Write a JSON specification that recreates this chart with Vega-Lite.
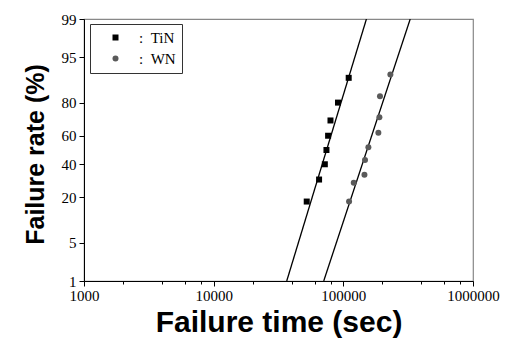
{
  "$schema": "https://vega.github.io/schema/vega-lite/v6.json",
  "width": 389,
  "height": 262,
  "autosize": {"type": "none"},
  "padding": {"left": 84, "top": 19, "right": 38, "bottom": 58},
  "background": "white",
  "config": {
    "view": {"stroke": "#888888", "strokeWidth": 1.2},
    "axis": {
      "domainColor": "#000000",
      "tickColor": "#000000",
      "labelFont": "Liberation Serif",
      "labelFontSize": 15,
      "labelColor": "#000000",
      "titleFont": "Liberation Sans",
      "titleFontWeight": "bold",
      "titleColor": "#000000",
      "grid": false,
      "labelOverlap": false,
      "labelFlush": false
    }
  },
  "datasets": {
    "pts": [
      {"series": "TiN", "time": 52200, "rate": 18},
      {"series": "TiN", "time": 65000, "rate": 30},
      {"series": "TiN", "time": 72000, "rate": 40},
      {"series": "TiN", "time": 74100, "rate": 50},
      {"series": "TiN", "time": 76300, "rate": 60},
      {"series": "TiN", "time": 79600, "rate": 70},
      {"series": "TiN", "time": 91000, "rate": 80},
      {"series": "TiN", "time": 110000, "rate": 90},
      {"series": "WN", "time": 110700, "rate": 18},
      {"series": "WN", "time": 120300, "rate": 28},
      {"series": "WN", "time": 145500, "rate": 33},
      {"series": "WN", "time": 147000, "rate": 43},
      {"series": "WN", "time": 156000, "rate": 52},
      {"series": "WN", "time": 186300, "rate": 62},
      {"series": "WN", "time": 189700, "rate": 72},
      {"series": "WN", "time": 191700, "rate": 83},
      {"series": "WN", "time": 230500, "rate": 91}
    ],
    "fits": [
      {"series": "TiN", "time": 36600, "rate": 1},
      {"series": "TiN", "time": 150700, "rate": 99},
      {"series": "WN", "time": 70600, "rate": 1},
      {"series": "WN", "time": 328000, "rate": 99}
    ]
  },
  "encoding": {
    "x": {
      "field": "time", "type": "quantitative",
      "scale": {"type": "log", "domain": [1000, 1000000], "nice": false},
      "axis": {
        "title": "Failure time (sec)",
        "titleFontSize": 30,
        "titleY": 50,
        "titleBaseline": "alphabetic",
        "values": [1000, 2000, 4000, 6000, 8000, 10000, 20000, 40000, 60000, 80000, 100000, 200000, 400000, 600000, 800000, 1000000],
        "labelExpr": "indexof([1000, 10000, 100000, 1000000], datum.value) >= 0 ? format(datum.value, 'd') : ''",
        "tickSize": {"condition": {"test": "indexof([1000, 10000, 100000, 1000000], datum.value) >= 0", "value": 5}, "value": 3},
        "labelPadding": 2,
        "labelOverlap": false
      }
    },
    "y": {
      "field": "z", "type": "quantitative",
      "scale": {"domain": [-2.3263, 2.3263], "nice": false, "zero": false},
      "axis": {
        "title": "Failure rate (%)",
        "titleFontSize": 25,
        "titleAngle": -90,
        "titleX": -41,
        "titleY": 135,
        "titleAlign": "center",
        "titleBaseline": "alphabetic",
        "values": [-2.3263, -1.6449, -0.8416, -0.2533, 0.2533, 0.8416, 1.6449, 2.3263],
        "labelExpr": "format(cumulativeNormal(datum.value) * 100, '.0f')",
        "labelOverlap": false,
        "tickSize": 5,
        "labelPadding": 3
      }
    }
  },
  "layer": [
    {
      "data": {"name": "fits"},
      "transform": [{"calculate": "quantileNormal(datum.rate / 100)", "as": "z"}],
      "mark": {"type": "line", "color": "#000000", "strokeWidth": 1.3, "clip": true},
      "encoding": {
        "detail": {"field": "series"}
      }
    },
    {
      "data": {"name": "pts"},
      "transform": [{"calculate": "quantileNormal(datum.rate / 100)", "as": "z"}],
      "mark": {"type": "point", "filled": true, "opacity": 1, "size": 36},
      "encoding": {
        "shape": {
          "field": "series", "type": "nominal",
          "scale": {"domain": ["TiN", "WN"], "range": ["square", "circle"]}
        },
        "color": {
          "field": "series", "type": "nominal",
          "scale": {"domain": ["TiN", "WN"], "range": ["#000000", "#5a5a5a"]},
          "legend": {
            "title": null,
            "orient": "none",
            "legendX": 6,
            "legendY": 5,
            "padding": 6,
            "strokeColor": "#333333",
            "symbolOffset": 12,
            "symbolSize": 36,
            "symbolType": "square",
            "labelOffset": 16,
            "labelFont": "Liberation Serif",
            "labelFontSize": 15,
            "labelColor": "#000000",
            "rowPadding": 5,
            "labelExpr": "':\u00a0\u00a0' + datum.label"
          }
        }
      }
    }
  ]
}
